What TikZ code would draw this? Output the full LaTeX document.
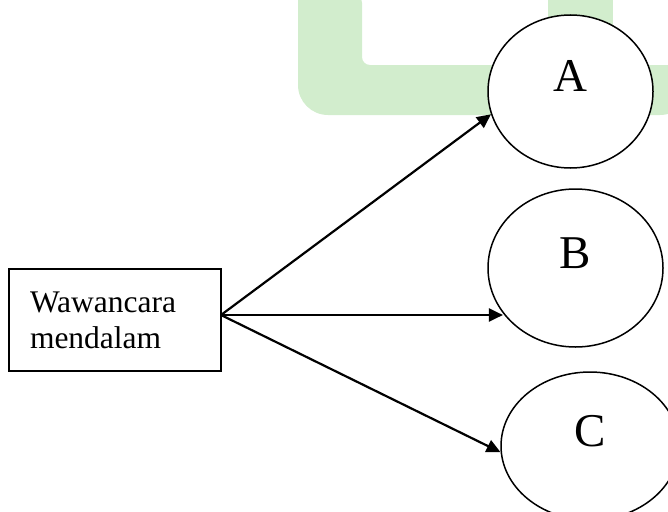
\documentclass[tikz,border=0pt]{standalone}
\usepackage{fontspec}
\setmainfont{Liberation Serif}
\usetikzlibrary{shapes.geometric, arrows.meta}
\definecolor{wmgreen}{RGB}{210,237,205}
\begin{document}
\begin{tikzpicture}[x=1pt, y=-1pt,
  boxnode/.style={draw, line width=1.8pt, minimum width=212pt, minimum height=102pt, inner xsep=21pt, inner ysep=0pt, text width=170pt, align=left, font=\fontsize{31.5}{36}\selectfont},
  ellnode/.style={draw, fill=white, ellipse, line width=1.5pt, inner sep=0pt, text height=0pt, text depth=0pt, font=\fontsize{47}{50}\selectfont},
  arr/.style={line width=2.2pt, -{Triangle[length=14pt, width=13pt]}}]
\useasboundingbox (0,0) rectangle (668,511);
\clip (0,0) rectangle (668,511);
% background watermark
\fill[wmgreen] (298,-5) {[rounded corners=30pt] -- (298,115) -- (690,115)} -- (690,65) {[rounded corners=8pt] -- (362,65) -- (362,-5)} -- cycle;
\fill[wmgreen] (548,-5) rectangle (613,66);
% nodes
\node[boxnode] (wbox) at (115,320) {Wawancara\\mendalam};
\node[ellnode, minimum width=165pt, minimum height=153pt] (A) at (570.5,91.5) {A};
\node[ellnode, minimum width=175pt, minimum height=158pt] (B) at (575.5,268) {B};
\node[ellnode, minimum width=178pt, minimum height=148pt] (C) at (590,446) {C};
% connectors
\coordinate (src) at (221,315);
\draw[arr] (src) -- (A.196);
\draw[arr] (src) -- (src -| B.212);
\draw[arr] (src) -- (C.184);
\end{tikzpicture}
\end{document}
